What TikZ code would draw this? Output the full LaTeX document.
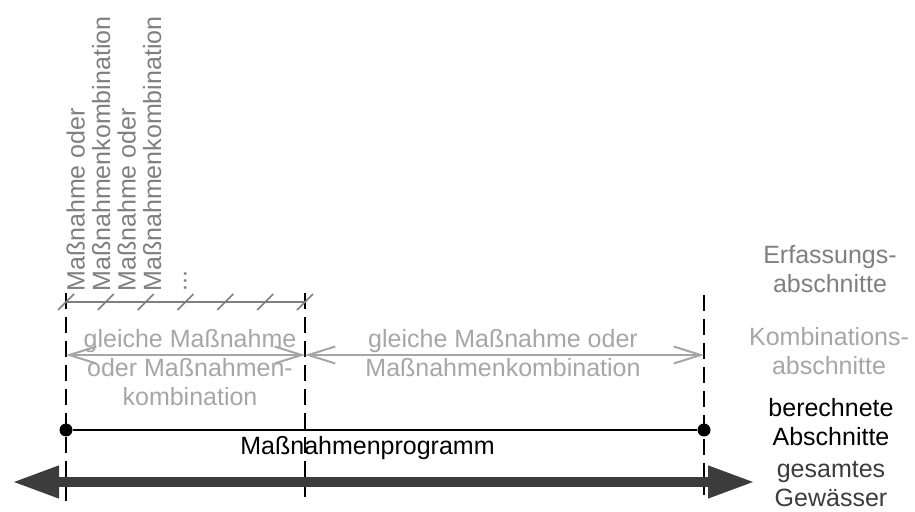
\documentclass[tikz,border=0pt]{standalone}
\usepackage{fontspec}
\setmainfont{Liberation Sans}
\definecolor{mpgray}{RGB}{127,127,127}
\definecolor{mplight}{RGB}{166,166,166}
\definecolor{mpdark}{RGB}{60,60,60}
\usetikzlibrary{arrows.meta,positioning}
\tikzset{
    lbl/.style={
        font=\fontsize{12.5}{14.5}\selectfont, align=center,
        inner sep=0pt, text=#1
    },
    lbl/.default=black,
    border/.style={
        dash pattern=on 8pt off 4pt, line width=1pt, draw=black
    },
    hatch/.style={draw=mpgray, line width=0.8pt},
    span/.style={
        {Straight Barb[length=13.5pt,width=8.5pt]}-{Straight Barb[length=13.5pt,width=8.5pt]},
        line width=1pt, draw=mplight
    },
    river/.style={
        {Triangle[length=23.5pt,width=15pt]}-{Triangle[length=23.5pt,width=15pt]},
        line width=5pt, draw=mpdark
    },
    endpoint/.style={circle, fill=black, inner sep=0pt, minimum size=6.5pt}
}

\begin{document}
\begin{tikzpicture}[x=0.5pt,y=-0.5pt]
\useasboundingbox (0,0) rectangle (915,512);
% section borders
\coordinate (aTop) at (66,293);  \coordinate (aBot) at (66,502);
\coordinate (bTop) at (305,293); \coordinate (bBot) at (305,497);
\coordinate (cTop) at (704,295); \coordinate (cBot) at (704,495);
\draw[border](aTop)--(aBot);
\draw[border](bTop)--(bBot);
\draw[border](cTop)--(cBot);
% Erfassungsabschnitte
\coordinate (hL) at (66,302);
\coordinate (hR) at (305,302);
\draw[hatch](hL)--(hR);
\foreach \i in {0,...,6}
  \draw[hatch] ({66+\i*39.83-8},310) -- ++(16,-16);
\node[lbl=mpgray, rotate=90, anchor=north west, align=left,
      font=\fontsize{12.5}{12.75}\selectfont]
  (mk) at (66,292) {Maßnahme oder\\Maßnahmenkombination\\Maßnahme oder\\Maßnahmenkombination\\...};
% Kombinationsabschnitte
\coordinate (kA) at (66,355);
\coordinate (kB) at (305,355);
\coordinate (kC) at (704,355);
\draw[span](kA)--(kB);
\draw[span](kB)--(kC);
\node[lbl=mplight, anchor=base] (k1) at (190,406)
  {gleiche Maßnahme\\oder Maßnahmen-\\kombination};
\node[lbl=mplight, anchor=base] (k2) at (503,377)
  {gleiche Maßnahme oder\\Maßnahmenkombination};
% berechnete Abschnitte
\node[endpoint] (p1) at (66,430) {};
\node[endpoint] (p2) at (704,430) {};
\draw[line width=0.75pt](p1)--(p2);
\node[lbl, anchor=base] (prog) at (367.5,455) {Maßnahmenprogramm};
% gesamtes Gewaesser
\coordinate (wL) at (12,482);
\coordinate (wR) at (755,482);
\draw[river](wL)--(wR);
% legend
\node[lbl=mpgray, anchor=base] (l1) at (830,293) {Erfassungs-\\abschnitte};
\node[lbl=mplight, anchor=base] (l2) at (829,375) {Kombinations-\\abschnitte};
\node[lbl, anchor=base] (l3) at (831,446) {berechnete\\Abschnitte};
\node[lbl=mpdark, anchor=base] (l4) at (831,507) {gesamtes\\Gewässer};
\end{tikzpicture}
\end{document}
